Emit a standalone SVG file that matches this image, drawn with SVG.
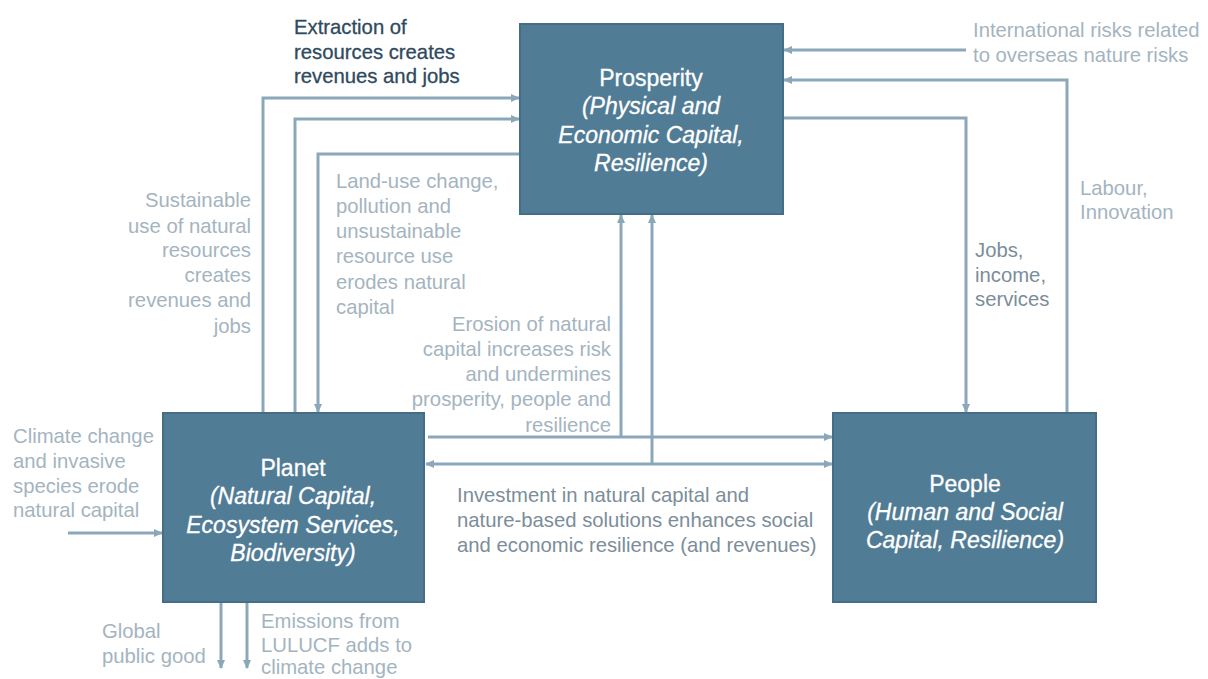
<svg xmlns="http://www.w3.org/2000/svg" width="1208" height="679" viewBox="0 0 1208 679">
<defs>
<marker id="ah" viewBox="0 0 10 10" refX="9" refY="5" markerWidth="9" markerHeight="9" markerUnits="userSpaceOnUse" orient="auto-start-reverse">
<path d="M0,0.5 L10,5 L0,9.5 Z" fill="#8aa8ba"/>
</marker>
</defs>
<style>
.box{fill:#517c95;stroke:#456e86;stroke-width:2}
.nt{font-family:"Liberation Sans",Arial,sans-serif;font-size:23px;fill:#ffffff;stroke:#ffffff;stroke-width:0.3;text-anchor:middle}
.it{font-style:italic}
.ln{fill:none;stroke:#8aa8ba;stroke-width:3}
.lb{font-family:"Liberation Sans",Arial,sans-serif;font-size:20.3px;fill:#a4b4bf}
.dk{fill:#2f4a5e;stroke:#2f4a5e;stroke-width:0.3}
.md{fill:#7c8d99}
.r{text-anchor:end}
</style>
<rect width="1208" height="679" fill="#ffffff"/>
<g id="connectors">
<path class="ln" d="M263,413 V98 H519" marker-end="url(#ah)"/>
<path class="ln" d="M295,413 V119 H519" marker-end="url(#ah)"/>
<path class="ln" d="M520,154 H318 V412" marker-end="url(#ah)"/>
<path class="ln" d="M68,533 H162" marker-end="url(#ah)"/>
<path class="ln" d="M221,602 V668" marker-end="url(#ah)"/>
<path class="ln" d="M247,602 V668" marker-end="url(#ah)"/>
<path class="ln" d="M428,437 H832" marker-end="url(#ah)"/>
<path class="ln" d="M621,437 V215" marker-end="url(#ah)"/>
<path class="ln" d="M426,464 H832" marker-start="url(#ah)" marker-end="url(#ah)"/>
<path class="ln" d="M652,464 V215" marker-end="url(#ah)"/>
<path class="ln" d="M784,118 H966 V412" marker-end="url(#ah)"/>
<path class="ln" d="M1067,413 V80 H784" marker-end="url(#ah)"/>
<path class="ln" d="M966,50 H784" marker-end="url(#ah)"/>
</g>
<g id="prosperity">
<rect class="box" x="520" y="24" width="263" height="190"/>
<text class="nt" x="651" y="86">Prosperity</text>
<text class="nt it" x="651" y="114">(Physical and</text>
<text class="nt it" x="651" y="143">Economic Capital,</text>
<text class="nt it" x="651" y="171">Resilience)</text>
</g>
<g id="planet">
<rect class="box" x="163" y="413" width="261" height="189"/>
<text class="nt" x="293" y="476">Planet</text>
<text class="nt it" x="293" y="504">(Natural Capital,</text>
<text class="nt it" x="293" y="533">Ecosystem Services,</text>
<text class="nt it" x="293" y="561">Biodiversity)</text>
</g>
<g id="people">
<rect class="box" x="833" y="413" width="263" height="189"/>
<text class="nt" x="965" y="492">People</text>
<text class="nt it" x="965" y="520">(Human and Social</text>
<text class="nt it" x="965" y="548">Capital, Resilience)</text>
</g>
<g id="labels">
<text class="lb dk" x="294" y="34">Extraction of</text>
<text class="lb dk" x="294" y="59">resources creates</text>
<text class="lb dk" x="294" y="83">revenues and jobs</text>

<text class="lb r" x="251" y="207">Sustainable</text>
<text class="lb r" x="251" y="233">use of natural</text>
<text class="lb r" x="251" y="257">resources</text>
<text class="lb r" x="251" y="282">creates</text>
<text class="lb r" x="251" y="307">revenues and</text>
<text class="lb r" x="251" y="333">jobs</text>

<text class="lb" x="336" y="188">Land-use change,</text>
<text class="lb" x="336" y="213">pollution and</text>
<text class="lb" x="336" y="238">unsustainable</text>
<text class="lb" x="336" y="263">resource use</text>
<text class="lb" x="336" y="289">erodes natural</text>
<text class="lb" x="336" y="314">capital</text>

<text class="lb r" x="611" y="331">Erosion of natural</text>
<text class="lb r" x="611" y="356">capital increases risk</text>
<text class="lb r" x="611" y="381">and undermines</text>
<text class="lb r" x="611" y="406">prosperity, people and</text>
<text class="lb r" x="611" y="432">resilience</text>

<text class="lb" x="13" y="443">Climate change</text>
<text class="lb" x="13" y="468">and invasive</text>
<text class="lb" x="13" y="493">species erode</text>
<text class="lb" x="13" y="517">natural capital</text>

<text class="lb" x="102" y="638">Global</text>
<text class="lb" x="102" y="663">public good</text>

<text class="lb" x="261" y="628">Emissions from</text>
<text class="lb" x="261" y="652">LULUCF adds to</text>
<text class="lb" x="261" y="674">climate change</text>

<text class="lb md" x="457" y="502">Investment in natural capital and</text>
<text class="lb md" x="457" y="527">nature-based solutions enhances social</text>
<text class="lb md" x="457" y="552">and economic resilience (and revenues)</text>

<text class="lb md" x="975" y="257">Jobs,</text>
<text class="lb md" x="975" y="282">income,</text>
<text class="lb md" x="975" y="306">services</text>

<text class="lb" x="1080" y="195">Labour,</text>
<text class="lb" x="1080" y="219">Innovation</text>

<text class="lb" x="973" y="37">International risks related</text>
<text class="lb" x="973" y="62">to overseas nature risks</text>
</g>
</svg>
